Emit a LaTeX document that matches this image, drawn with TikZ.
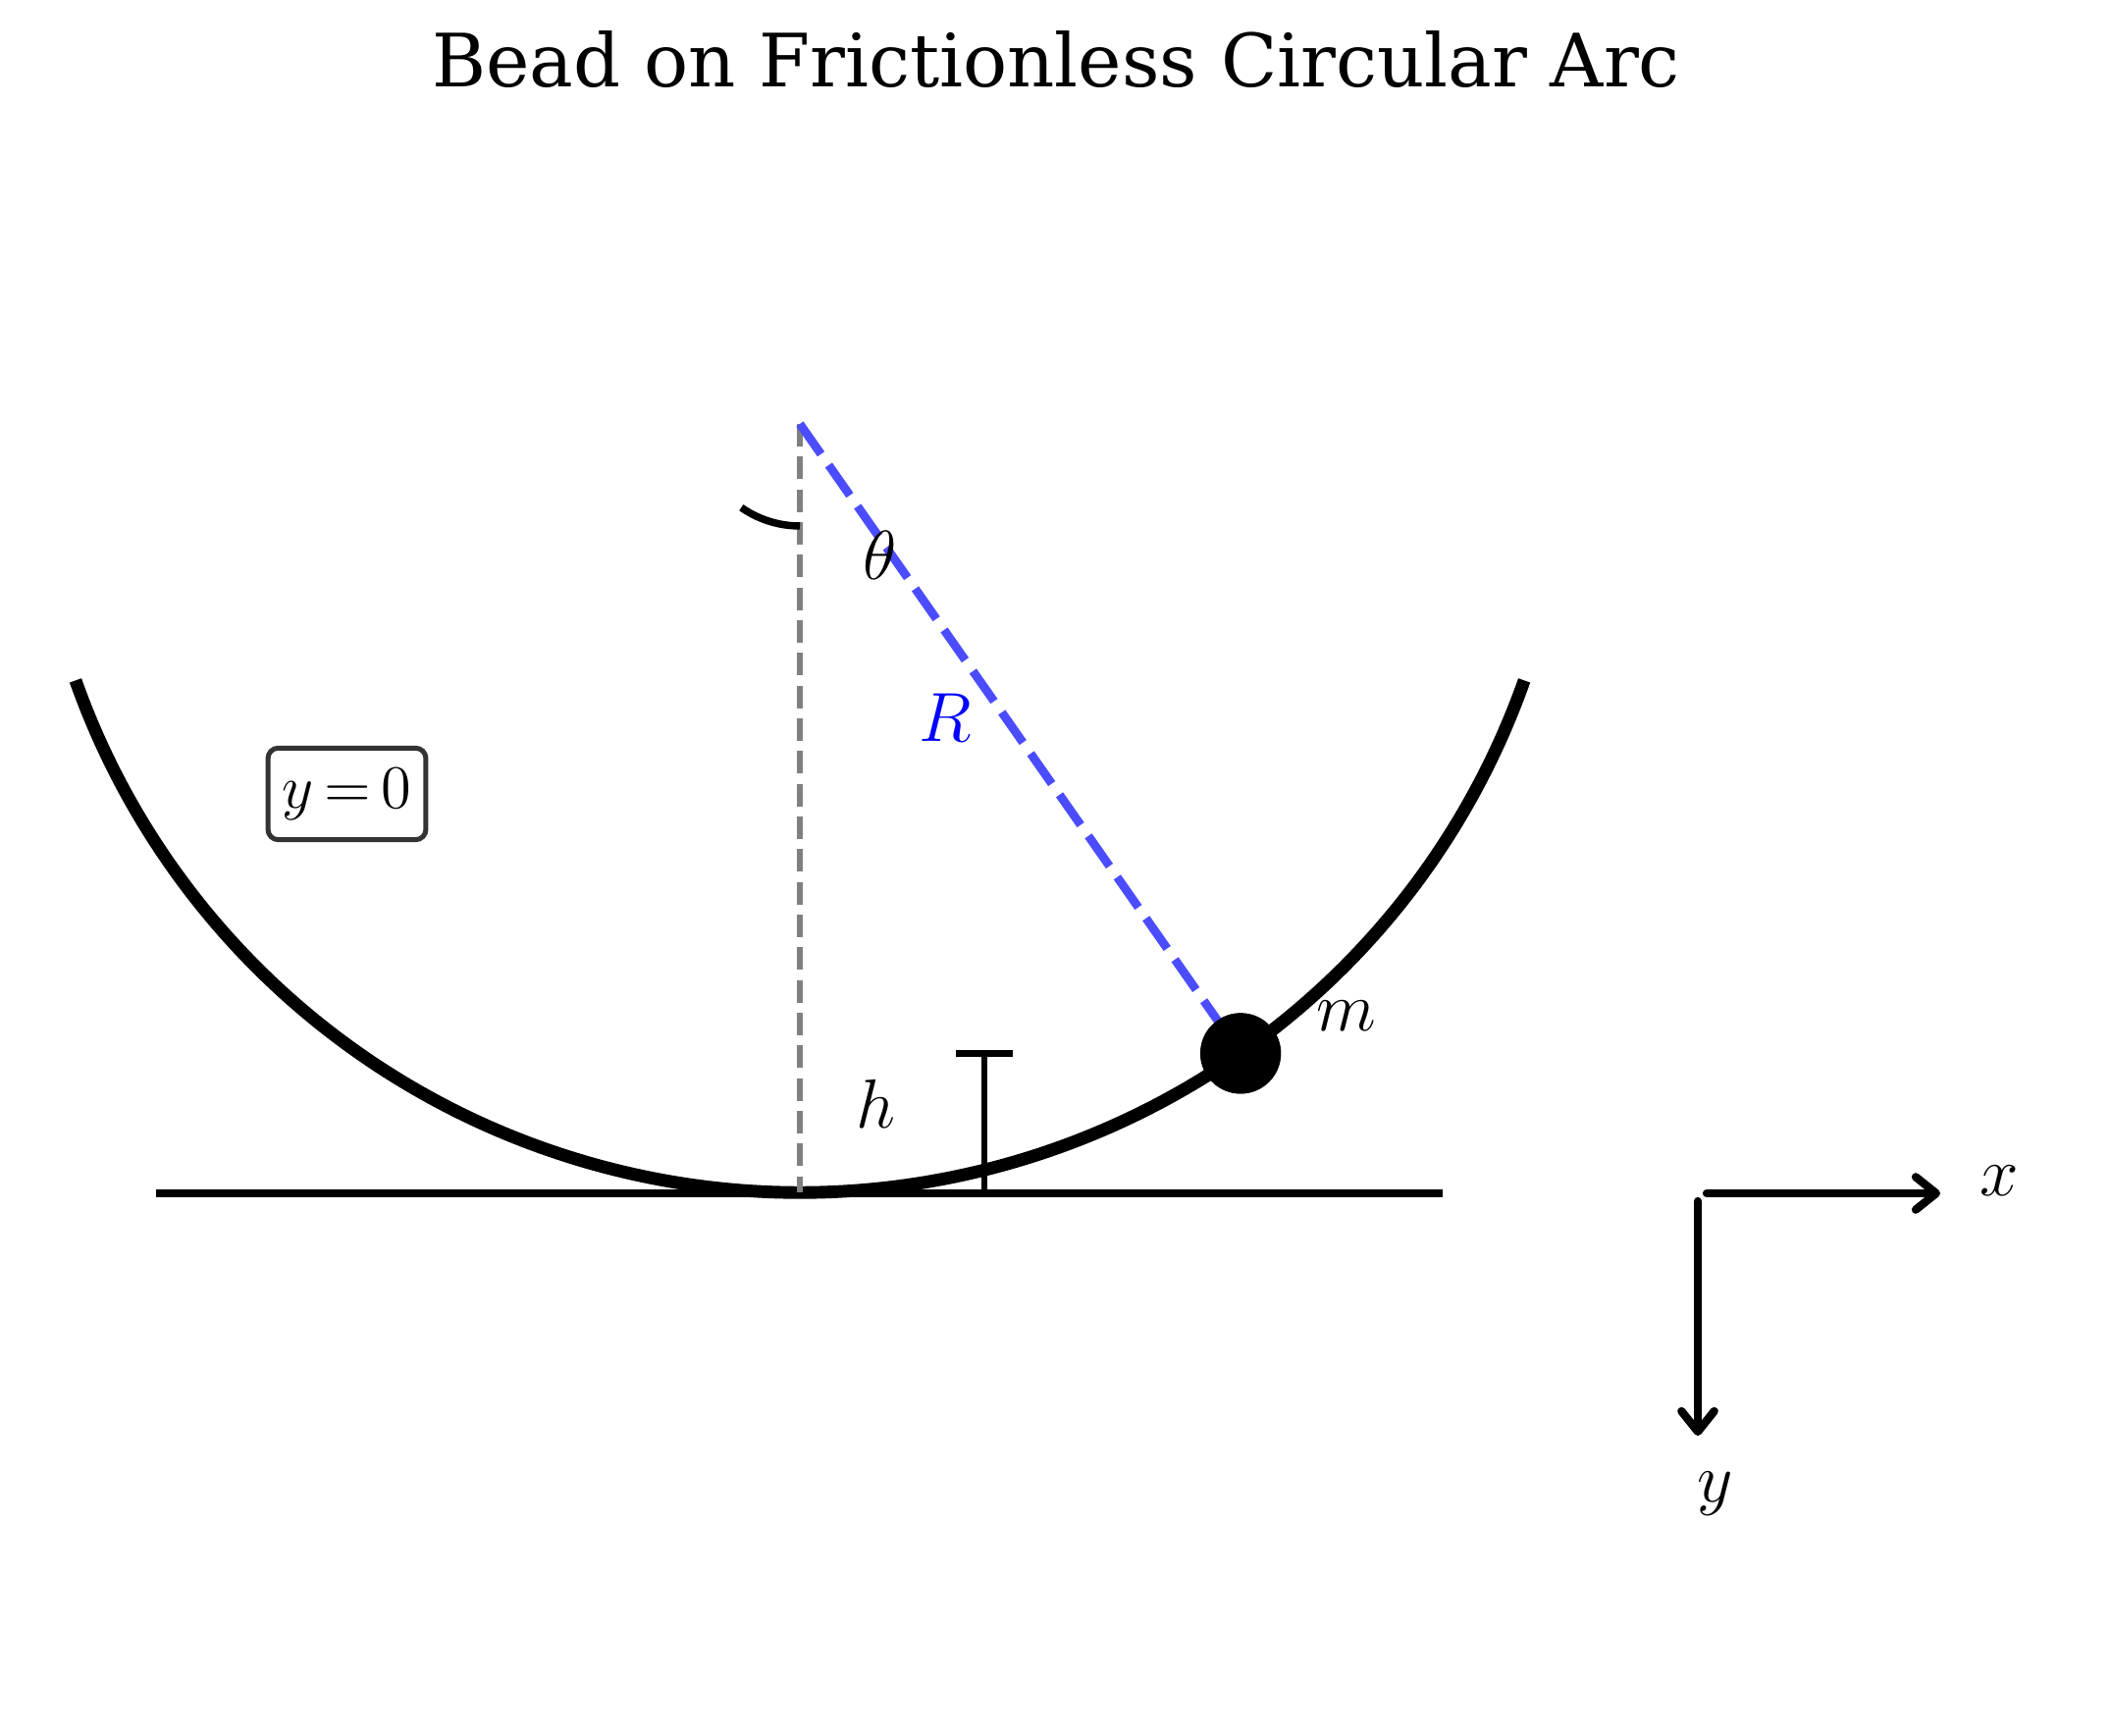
\documentclass[tikz,border=0pt]{standalone}
\usepackage{fix-cm}
\usepackage{fontspec}
\newfontfamily\titlefont{DejaVu Serif}
\usetikzlibrary{arrows.meta}
\definecolor{rblue}{rgb}{0.3,0.3,1}
\definecolor{boxedge}{rgb}{0.2,0.2,0.2}
\begin{document}
\begin{tikzpicture}[x=0.24bp,y=-0.24bp,
  lbl/.style={font=\fontsize{17bp}{20bp}\selectfont, inner sep=0pt},
  arcline/.style={line width=3.1bp},
  groundline/.style={line width=1.7bp},
  gdash/.style={draw={rgb,1:red,0.5;green,0.5;blue,0.5}, line width=1.5bp, dash pattern=on 5.5bp off 2.5bp},
  rdash/.style={draw=rblue, line width=2.1bp, dash pattern=on 9bp off 3.3bp},
  bead/.style={circle, fill=black, minimum size=19.7bp, inner sep=0pt},
  hmarker/.style={line width=1.6bp},
  anglearc/.style={line width=1.8bp},
  ybox/.style={draw=boxedge, line width=1.2bp, rounded corners=2.5bp, minimum width=38.6bp, minimum height=22.4bp, inner sep=0pt, font=\fontsize{15bp}{18bp}\selectfont},
  axisarrow/.style={line width=2bp, line cap=round, -{Straight Barb[length=5bp,width=8bp,round]}}
]
\useasboundingbox (0,0) rectangle (2152,1769);
\node[font=\titlefont\fontsize{18bp}{22bp}\selectfont, anchor=base, inner sep=0pt] (title) at (1076,89) {Bead on Frictionless Circular Arc};
\coordinate (C) at (815,432);
\coordinate (B) at (815,1215);
\coordinate (GL) at (159,1216);
\coordinate (GR) at (1470,1216);
\coordinate (ArcR) at (1553.1,693.4);
% main arc
\draw[arcline] (ArcR) arc[start angle=19.5, end angle=160.5, radius=783];
% ground
\draw[groundline] (GL) -- (GR);
% vertical reference
\draw[gdash] (C) -- (B);
% bead
\node[bead] (bead) at (1264.1,1073.4) {};
% radius
\draw[rdash] (C) -- (bead.center);
\node[bead] at (bead.center) {};
% height marker
\coordinate (hT) at (1003,1073.5);
\coordinate (hB) at (1003,1216);
\coordinate (hTL) at (974,1073.5);
\coordinate (hTR) at (1032,1073.5);
\draw[hmarker] (hB) -- (hT);
\draw[hmarker] (hTL) -- (hTR);
% angle arc
\coordinate (A0) at (815,536);
\draw[anglearc] (A0) arc[start angle=90, end angle=125, radius=104];
% labels
\node[lbl] (theta) at (897,566) {$\theta$};
\node[lbl, text=blue] (Rl) at (963,731) {$R$};
\node[lbl] (ml) at (1372,1035) {$m$};
\node[lbl] (hl) at (892,1125) {$h$};
\node[ybox] (y0) at (353.5,809) {$y\mkern3mu{=}\mkern3mu0$};
% axes
\coordinate (O1) at (1739,1216);
\coordinate (XE) at (1977,1216);
\coordinate (O2) at (1730,1224);
\coordinate (YE) at (1730,1463);
\draw[axisarrow] (O1) -- (XE);
\draw[axisarrow] (O2) -- (YE);
\node[lbl] (xl) at (2037,1203) {$x$};
\node[lbl] (yl) at (1748,1522) {$y$};
\end{tikzpicture}
\end{document}
